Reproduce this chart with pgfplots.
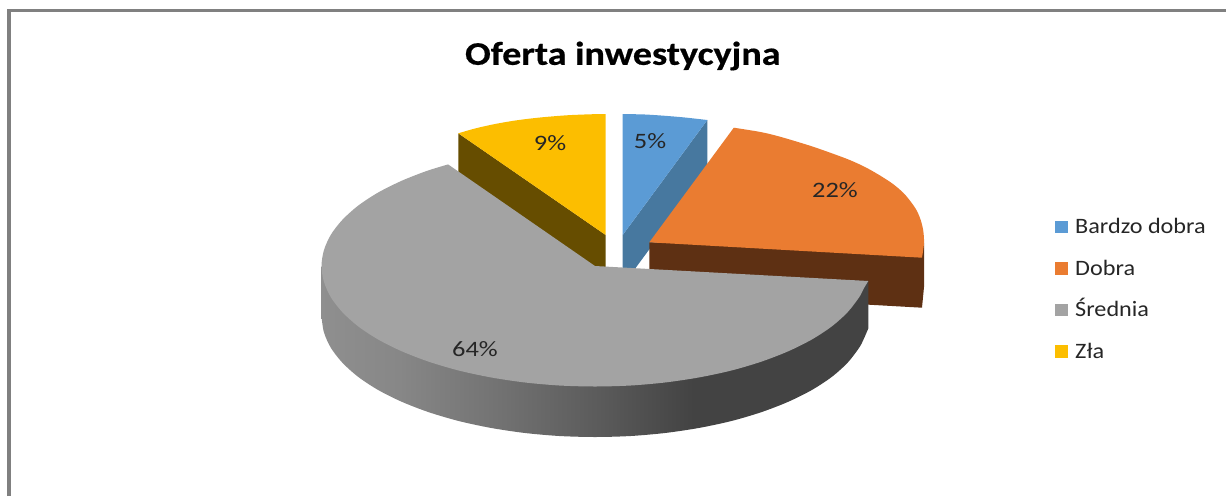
\documentclass[border=0pt]{standalone}
\usepackage{fontspec}
\setmainfont{Carlito}
\newfontfamily\titlefont[BoldFeatures={FakeBold=0.5}]{Carlito}
\usepackage{pgfplots}
\pgfplotsset{compat=1.18}

\definecolor{blueTop}{HTML}{5B9BD5}
\definecolor{blueSide}{HTML}{47789F}
\definecolor{orangeTop}{HTML}{EA7C31}
\definecolor{orangeSide}{HTML}{5E3013}
\definecolor{greyTop}{HTML}{A3A3A3}
\definecolor{yellowTop}{HTML}{FCBE00}
\definecolor{yellowSide}{HTML}{664D00}
\definecolor{labelText}{HTML}{262626}

% rim of the big slice, dark towards the right
\pgfdeclarehorizontalshading{rimgrey}{100bp}{
  rgb(0bp)=(0.56,0.56,0.56);
  rgb(25bp)=(0.56,0.56,0.56);
  rgb(32bp)=(0.53,0.53,0.53);
  rgb(41bp)=(0.45,0.45,0.45);
  rgb(50bp)=(0.36,0.36,0.36);
  rgb(59bp)=(0.263,0.263,0.263);
  rgb(100bp)=(0.263,0.263,0.263)}

\newcommand{\wide}[1]{\hspace{6pt}\scalebox{1.10}[1]{#1}}

\begin{document}
\begin{tikzpicture}
\begin{axis}[
    scale only axis,
    width=1226pt, height=496pt,
    xmin=0, xmax=1226, ymin=0, ymax=496,
    y dir=reverse,
    hide axis,
    title={\scalebox{1.155}[1]{Oferta inwestycyjna}},
    title style={at={(0.508,0.875)}, anchor=center, text=black,
        font=\fontsize{33}{33}\selectfont\titlefont\bfseries},
    legend style={
        at={(0.858,0.5706)}, anchor=north west,
        draw=none, fill=none,
        row sep=17.5pt,
        font=\fontsize{20}{20}\selectfont\color{labelText},
        nodes={inner sep=1.5pt, text height=17pt, text depth=4pt}
    },
    legend cell align=left,
    legend image code/.code={\fill[#1] (0pt,-6.3pt) rectangle (12.6pt,6.3pt);},
]
% keeps the whole axis area in the page
\path (rel axis cs:0,0) rectangle (rel axis cs:1,1);

% frame
\addplot[forget plot, draw=gray, line width=3.5pt] coordinates {(9,496) (9,10.5) (1226,10.5)};

% side walls that the tops partly hide
\addplot[forget plot, draw=none, fill=blueSide] coordinates {
  (622.7,235) (707.3,120) (707.3,170.5) (622.7,285.5)} -- cycle;
\addplot[forget plot, draw=none, fill=yellowSide] coordinates {
  (458.3,133.3) (458.3,183.8) (605.7,285.5) (605.7,235)} -- cycle;

% Bardzo dobra
\addplot[draw=none, fill=blueTop, smooth] coordinates {
  (622.7,114) (645,114.5) (665,115.8) (685,117.5) (707.3,120)}
  -- (axis cs:622.7,235) -- cycle;

% Dobra
\addplot[forget plot, draw=none, fill=orangeSide] coordinates {
  (649.3,242.3) (924,243) (924,287) (922,307.7) (649.3,292.3)} -- cycle;
\addplot[draw=none, fill=orangeTop, smooth] coordinates {
  (733.8,127.7) (760.5,132) (780,136.7) (813,146.7) (846.7,158.8) (865,167)
  (880,175.5) (893,184) (903.5,193) (911,202) (917,211) (921,221) (923.3,231)
  (924,243) (922,257.7)}
  -- (axis cs:649.3,242.3) -- cycle;

% Srednia, rim first; its upper edge lies under the top face
\addplot[forget plot, draw=none, shading=rimgrey, smooth] coordinates {
  (868.3,328.5) (863.5,339.5) (859.2,347.7) (847.7,362.6) (831.9,376.8) (812,389.9)
  (788.4,401.7) (761.5,412.1) (731.8,420.9) (699.7,427.8) (665.8,432.9) (630.7,436)
  (595,437) (559.3,436) (524.2,432.9) (490.3,427.8) (458.3,420.9) (428.5,412.1)
  (401.6,401.7) (378,389.9) (358.1,376.8) (342.3,362.6) (330.8,347.7) (323.9,332.2) (321.5,316.5)}
  -- (axis cs:321.5,266) -- (axis cs:868.3,281) -- cycle;
\addplot[draw=none, fill=greyTop, smooth] coordinates {
  (868.3,281) (863.5,289) (859.2,297.2) (847.7,312.1) (831.9,326.3) (812,339.4)
  (788.4,351.2) (761.5,361.6) (731.8,370.4) (699.7,377.3) (665.8,382.4) (630.7,385.5)
  (595,386.5) (559.3,385.5) (524.2,382.4) (490.3,377.3) (458.3,370.4) (428.5,361.6)
  (401.6,351.2) (378,339.4) (358.1,326.3) (342.3,312.1) (330.8,297.2) (323.9,281.7)
  (321.5,266) (323.9,250.3) (330.8,234.8) (342.3,219.9) (358.1,205.7) (378,192.6)
  (401.6,180.8) (426.6,171) (448.1,164.4)}
  -- (axis cs:595,266) -- cycle;

% Zla
\addplot[draw=none, fill=yellowTop, smooth] coordinates {
  (458.3,133.3) (475,128.5) (495,124) (516.7,120.3) (540,117.5)
  (566.7,115.3) (590,114.3) (605.7,114)}
  -- (axis cs:605.7,235) -- cycle;

\legend{\wide{Bardzo dobra}, \wide{Dobra}, \wide{Średnia}, \wide{Zła}}

\tikzset{every node/.style={font=\fontsize{22}{22}\selectfont, text=labelText}}
\node at (axis cs:650,141) {\scalebox{1.2}[1]{5\%}};
\node at (axis cs:835,190) {\scalebox{1.2}[1]{22\%}};
\node at (axis cs:475,349) {\scalebox{1.2}[1]{64\%}};
\node at (axis cs:550,143) {\scalebox{1.2}[1]{9\%}};
\end{axis}
\end{tikzpicture}
\end{document}
